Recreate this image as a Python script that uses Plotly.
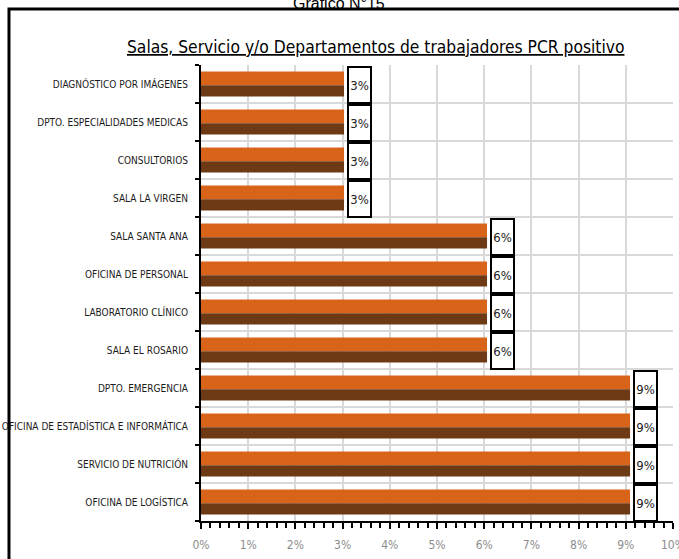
import plotly.graph_objects as go

categories = [
    "DIAGNÓSTICO POR IMÁGENES",
    "DPTO. ESPECIALIDADES MEDICAS",
    "CONSULTORIOS",
    "SALA LA VIRGEN",
    "SALA SANTA ANA",
    "OFICINA DE PERSONAL",
    "LABORATORIO CLÍNICO",
    "SALA EL ROSARIO",
    "DPTO. EMERGENCIA",
    "OFICINA DE ESTADÍSTICA E INFORMÁTICA",
    "SERVICIO DE NUTRICIÓN",
    "OFICINA DE LOGÍSTICA",
]
values = [3.03, 3.03, 3.03, 3.03, 6.06, 6.06, 6.06, 6.06, 9.09, 9.09, 9.09, 9.09]
value_labels = ["3%", "3%", "3%", "3%", "6%", "6%", "6%", "6%", "9%", "9%", "9%", "9%"]
x_tick_vals = [0, 1, 2, 3, 4, 5, 6, 7, 8, 9, 10]
x_tick_text = ["0%", "1%", "2%", "3%", "4%", "5%", "6%", "7%", "8%", "9%", "10%"]

n = len(categories)
# top category at the top of the chart
ypos = [n - 1 - i for i in range(n)]

FONT = "DejaVu Sans Condensed, DejaVu Sans, sans-serif"

fig = go.Figure()
fig.add_trace(go.Bar(
    x=values, y=ypos, orientation="h",
    width=0.36, offset=-0.03,
    marker=dict(color="#D8641A", line=dict(width=0)),
    hoverinfo="skip", showlegend=False,
))
fig.add_trace(go.Bar(
    x=values, y=ypos, orientation="h",
    width=0.30, offset=-0.33,
    marker=dict(color="#6E3A16", line=dict(width=0)),
    hoverinfo="skip", showlegend=False,
))

for v, y, t in zip(values, ypos, value_labels):
    fig.add_annotation(
        x=v, y=y, xref="x", yref="y", text=t, showarrow=False,
        xanchor="left", yanchor="middle", xshift=3, yshift=-1,
        width=21, height=34, bgcolor="white",
        bordercolor="black", borderwidth=2, borderpad=0,
        font=dict(family=FONT, size=13, color="#222222"),
    )

fig.update_layout(
    width=679, height=559,
    margin=dict(l=201, r=6, t=65, b=38, autoexpand=False),
    paper_bgcolor="white", plot_bgcolor="white",
    barmode="overlay",
    xaxis=dict(
        range=[0, 10], tickvals=x_tick_vals, ticktext=x_tick_text,
        showgrid=True, gridcolor="#D9D9D9", gridwidth=2,
        showline=True, linecolor="black", linewidth=2,
        ticks="outside", ticklen=6, tickcolor="black", tickwidth=1.5,
        minor=dict(dtick=0.2, ticks="outside", ticklen=5, tickcolor="black", tickwidth=1.5, showgrid=False),
        tickfont=dict(family=FONT, size=12, color="#8C8C8C"),
        ticklabelstandoff=6, ticklabeloverflow="allow",
        zeroline=False, fixedrange=True, automargin=False,
    ),
    yaxis=dict(
        range=[-0.5, n - 0.5], tickvals=ypos, ticktext=categories,
        showgrid=False, showline=True, linecolor="black", linewidth=2,
        ticks="", ticklabelstandoff=9,
        minor=dict(tickvals=[i - 0.5 for i in range(n + 1)], ticks="outside", ticklen=4,
                   tickcolor="black", tickwidth=2, showgrid=True, gridcolor="#D9D9D9", gridwidth=2),
        tickfont=dict(family=FONT, size=10, color="#1a1a1a"),
        zeroline=False, fixedrange=True, automargin=False,
    ),
    shapes=[dict(
        type="rect", xref="paper", yref="paper",
        x0=-0.4068, x1=1.05, y0=-0.12, y1=1.1228,
        line=dict(color="black", width=3), fillcolor="rgba(0,0,0,0)", layer="below",
    )],
)

fig.add_annotation(
    x=0.5, y=1.0, xref="paper", yref="paper", yanchor="bottom", xanchor="center",
    text="<u>Salas, Servicio y/o Departamentos de trabajadores PCR positivo</u>",
    showarrow=False, xshift=-62, yshift=6,
    font=dict(family=FONT, size=17.3, color="black"),
)
fig.add_annotation(
    x=0.5, y=1.0, xref="paper", yref="paper", yanchor="middle", xanchor="center",
    text="Gráfico N°15", showarrow=False, xshift=-98, yshift=62,
    font=dict(family="Liberation Sans, Arial, sans-serif", size=16, color="black"),
)

fig.write_html("out.html", config={"displayModeBar": False},
               post_script="document.body.style.margin='0px';")
